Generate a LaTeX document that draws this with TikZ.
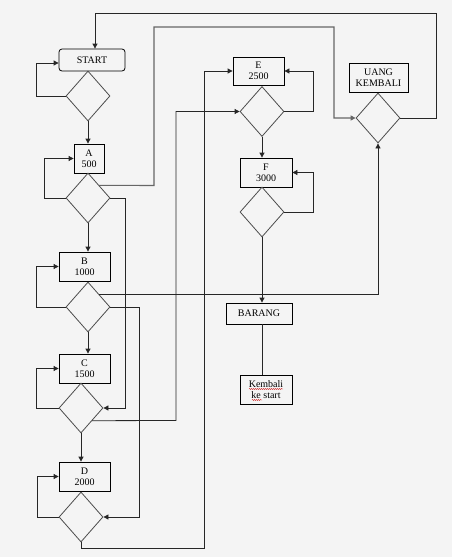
\documentclass[tikz,border=0pt]{standalone}
\usepackage{fontspec}
\setmainfont{Liberation Serif}
\usetikzlibrary{arrows.meta,shapes.geometric,decorations.pathmorphing}
\definecolor{bg}{RGB}{244,244,244}
\begin{document}
\begin{tikzpicture}[x=1pt,y=-1pt,
  box/.style={draw=black,line width=0.8pt,fill=bg,inner sep=0pt,align=center,font=\fontsize{10}{11}\selectfont},
  dia/.style={draw=black!70,line width=0.8pt,shape=diamond,inner sep=0pt,minimum width=44pt,minimum height=50pt},
  conn/.style={line width=0.8pt,draw=black!85},
  arr/.style={conn,-{Triangle[length=5pt,width=5pt]}},
  squig/.style={red!80!black,line width=0.3pt,decorate,decoration={snake,amplitude=0.6pt,segment length=2pt}}]
\fill[bg] (0,0) rectangle (452,557);
\useasboundingbox (0,0) rectangle (452,557);
% nodes
\node[box,rounded corners=3pt,minimum width=66pt,minimum height=22pt] (start) at (92,60) {START};
\node[dia] (d0) at (88,96) {};
\node[box,minimum width=30pt,minimum height=29pt] (A) at (89,158.5) {A\\500};
\node[dia] (dA) at (88,198) {};
\node[box,minimum width=51pt,minimum height=29pt] (B) at (84.5,266.5) {B\\1000};
\node[dia] (dB) at (88,307) {};
\node[box,minimum width=51pt,minimum height=29pt] (C) at (84.5,368.5) {C\\1500};
\node[dia] (dC) at (81,408) {};
\node[box,minimum width=51pt,minimum height=29pt] (D) at (84.5,476.5) {D\\2000};
\node[dia] (dD) at (81,517) {};
\node[box,minimum width=51pt,minimum height=28pt] (E) at (258.5,71) {E\\2500};
\node[dia] (dE) at (262,111.5) {};
\node[box,minimum width=52pt,minimum height=29pt] (F) at (266,172.5) {F\\3000};
\node[dia] (dF) at (262,212) {};
\node[box,minimum width=66pt,minimum height=21pt] (barang) at (259,313.5) {BARANG};
\node[box,minimum width=52pt,minimum height=29pt] (kembali) at (266,389.5) {Kembali\\ke start};
\node[box,minimum width=59pt,minimum height=29pt] (uang) at (378.5,77.5) {UANG\\KEMBALI};
\node[dia] (dU) at (378,118) {};
% spell-check underlines
\draw[squig] (249,389) -- (283,389);
\draw[squig] (252,400) -- (262,400);
% connectors
\draw[arr] (dU.east) -| (436,13) -| ([xshift=3pt]start.north);
\draw[arr] (d0.west) -- ++(-29,0) |- ([yshift=-3pt]start.west);
\draw[arr] (d0.south) -- (d0.south |- A.north);
\draw[arr] (dA.west) -- ++(-21,0) |- (A.west);
\draw[arr,draw=black!60,line width=1.1pt] (dA.north east) -- (154,185.5) -- (154,27) -- (334,27) -- (334,118) -- (dU.west);
\draw[arr] (dA.east) -- (125,198) |- (dC.east);
\draw[arr] (dA.south) -- (dA.south |- B.north);
\draw[arr] (dB.west) -- ++(-29,0) |- (B.west);
\draw[arr] (dB.north east) -| (dU.south);
\draw[arr] (dB.east) -- (139,307) |- (dD.east);
\draw[arr] (dB.south) -- (dB.south |- C.north);
\draw[arr] (dC.west) -- ++(-22,0) |- (C.west);
\draw[arr] (dC.south east) -- (176,420.5) |- (dE.west);
\draw[arr] (dC.south) -- (dC.south |- D.north);
\draw[arr] (dD.west) -- ++(-21,0) |- (D.west);
\draw[arr] (dD.south) -- ++(0,6) -| (204,71) -- (E.west);
\draw[arr] (dE.east) -- (313,111.5) |- (E.east);
\draw[arr] (dE.south) -- (dE.south |- F.north);
\draw[arr] (dF.east) -- (313,212) |- (F.east);
\draw[arr] (dF.south) -- (dF.south |- barang.north);
\draw[conn] (dF.south |- barang.south) -- (dF.south |- kembali.north);
\end{tikzpicture}
\end{document}
